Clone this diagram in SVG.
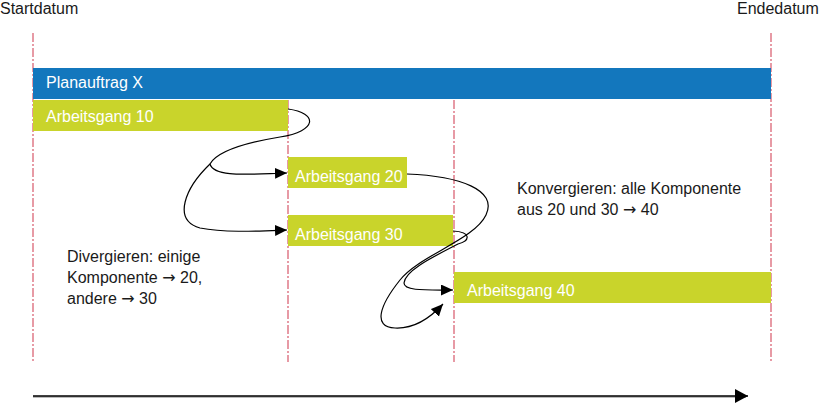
<svg xmlns="http://www.w3.org/2000/svg" width="819" height="405" viewBox="0 0 819 405">
<style>
text{font-family:"Liberation Sans",Arial,sans-serif;font-size:16px;fill:#1a1a1a}
.ar{font-family:"DejaVu Sans",sans-serif;font-size:16px}
.bl{fill:#fff}
.vl{stroke:#e07a88;stroke-width:1.5;stroke-dasharray:9,2,2,2;fill:none}
.pa{fill:#1377bd}
.ag{fill:#c9d42b}
.cn{fill:none;stroke:#000;stroke-width:1.2}
</style>
<defs>
<marker id="ah" markerUnits="userSpaceOnUse" markerWidth="14" markerHeight="12" refX="12" refY="5.5" orient="auto"><path d="M0,0 L12,5.5 L0,11 z" fill="#000"/></marker>
<marker id="ah2" markerUnits="userSpaceOnUse" markerWidth="16" markerHeight="16" refX="13" refY="7" orient="auto"><path d="M0,0 L13,7 L0,14 z" fill="#000"/></marker>
</defs>
<g id="guides">
<line class="vl" x1="33" y1="33" x2="33" y2="362"/>
<line class="vl" x1="288" y1="100" x2="288" y2="362"/>
<line class="vl" x1="454" y1="100" x2="454" y2="362"/>
<line class="vl" x1="771" y1="33" x2="771" y2="362"/>
</g>
<g id="startdatum"><text x="0" y="14">Startdatum</text></g>
<g id="endedatum"><text x="737" y="14">Endedatum</text></g>
<g id="planauftrag"><rect class="pa" x="33" y="68" width="738" height="31"/><text class="bl" x="46" y="88">Planauftrag X</text></g>
<g id="ag10"><rect class="ag" x="33" y="100" width="255" height="31"/><text class="bl" x="46" y="122">Arbeitsgang 10</text></g>
<g id="ag20"><rect class="ag" x="288" y="157" width="119" height="31"/><text class="bl" x="295" y="182">Arbeitsgang 20</text></g>
<g id="ag30"><rect class="ag" x="288" y="215" width="165" height="31"/><text class="bl" x="295" y="240">Arbeitsgang 30</text></g>
<g id="ag40"><rect class="ag" x="454" y="272" width="317" height="31"/><text class="bl" x="467" y="296">Arbeitsgang 40</text></g>
<g id="konvergieren"><text x="517" y="194">Konvergieren: alle Komponente</text><text x="517" y="215">aus 20 und 30 <tspan class="ar">→</tspan> 40</text></g>
<g id="divergieren"><text x="67" y="262">Divergieren: einige</text><text x="67" y="283">Komponente <tspan class="ar">→</tspan> 20,</text><text x="67" y="304">andere <tspan class="ar">→</tspan> 30</text></g>
<g id="connectors">
<path class="cn" d="M288,109 C318,113 318,131 280,137 C250,142 218,150 210,164 C214,178 250,174 287,173" marker-end="url(#ah)"/>
<path class="cn" d="M210,164 C185,188 172,220 200,228 C225,233 260,231 287,230" marker-end="url(#ah)"/>
<path class="cn" d="M407,174 C460,176 498,190 486,215 C474,240 420,255 400,280 C380,305 372,327 395,328 C415,329 432,316 443,304" marker-end="url(#ah)"/>
<path class="cn" d="M453,231 C472,232 470,241 458,244 C435,256 405,270 404,283 C404,291 425,290 453,290" marker-end="url(#ah)"/>
<line x1="33" y1="397" x2="746" y2="397" stroke="#bbb" stroke-width="2"/>
<line x1="33" y1="396" x2="748" y2="396" stroke="#000" stroke-width="1.5" marker-end="url(#ah2)"/>
</g>
</svg>
